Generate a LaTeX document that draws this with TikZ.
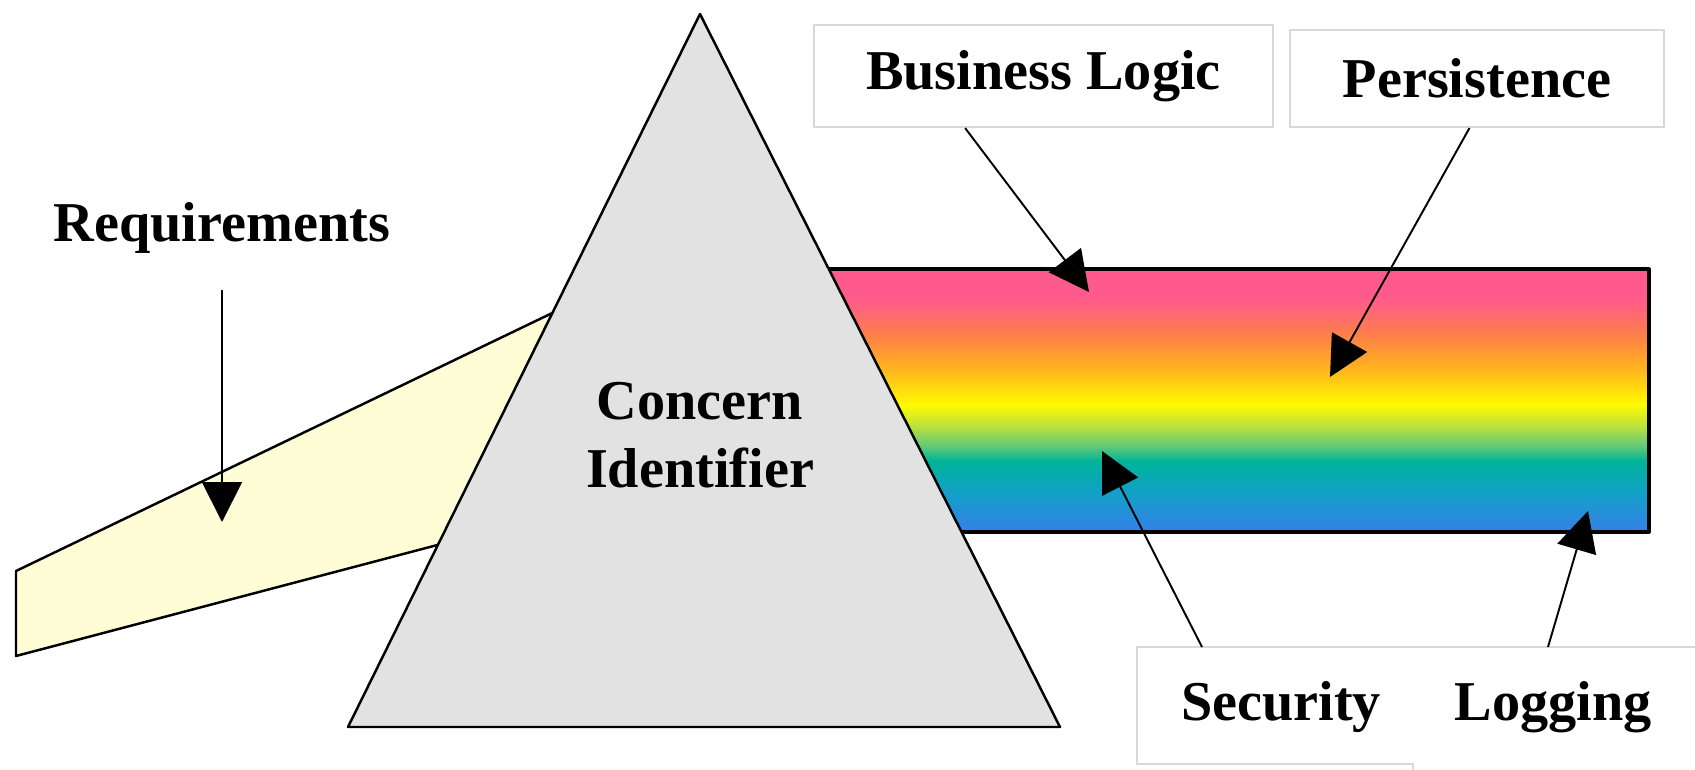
\documentclass[tikz,border=0pt]{standalone}
\usepackage{fontspec}
\setmainfont{Liberation Serif}
\usepackage{tkz-euclide}
\usetikzlibrary{arrows.meta,calc}

\definecolor{prismgray}{HTML}{E2E2E2}
\definecolor{beamyellow}{HTML}{FFFDD6}
\definecolor{tagframe}{HTML}{D8D8D8}
\definecolor{rbPink}{HTML}{FF5A8E}
\definecolor{rbOrange}{HTML}{FF8048}
\definecolor{rbAmber}{HTML}{FFB020}
\definecolor{rbYellow}{HTML}{FFFA00}
\definecolor{rbLime}{HTML}{B8E040}
\definecolor{rbGreen}{HTML}{60C878}
\definecolor{rbTeal}{HTML}{00B498}
\definecolor{rbSky}{HTML}{12A0C8}
\definecolor{rbBlue}{HTML}{3580E8}

\pgfdeclareverticalshading{rainbow}{100bp}{%
  color(0bp)=(rbBlue); color(25bp)=(rbBlue); color(32.5bp)=(rbSky);
  color(38.5bp)=(rbTeal); color(41.3bp)=(rbGreen); color(45bp)=(rbLime);
  color(49.2bp)=(rbYellow); color(56.5bp)=(rbAmber); color(62.3bp)=(rbOrange);
  color(69.5bp)=(rbPink); color(75bp)=(rbPink); color(100bp)=(rbPink)}

\tikzset{
  bigtext/.style={font=\bfseries\fontsize{16}{19.3}\selectfont},
  tag/.style={bigtext, draw=tagframe, line width=0.6pt, fill=white, inner sep=0pt},
  pointer/.style={-{Triangle[length=4mm,width=4mm]}, line width=0.55pt},
}

\begin{document}
\begin{tikzpicture}[x=0.1mm,y=-0.1mm]
  \useasboundingbox (0,0) rectangle (1695,770);
  \tkzDefPoint(16,571){Y1}
  \tkzDefPoint(650,266){Y2}
  \tkzDefPoint(650,489){Y3}
  \tkzDefPoint(16,656){Y4}
  \tkzDefPoint(760,269){R1}
  \tkzDefPoint(1649,269){R2}
  \tkzDefPoint(1649,532){R3}
  \tkzDefPoint(760,532){R4}
  \tkzDefPoint(700,14){T}
  \tkzDefPoint(348,727){L}
  \tkzDefPoint(1060,727){M}
  \tkzDrawPolygon[draw=black,line width=0.7pt,fill=beamyellow](Y1,Y2,Y3,Y4)
  \tkzDrawPolygon[draw=black,line width=0.9pt,shade,shading=rainbow](R1,R2,R3,R4)
  \tkzDrawPolygon[draw=black,line width=0.7pt,fill=prismgray](T,L,M)

  \node[bigtext, anchor=base] (req) at (222,241) {Requirements};
  \node[bigtext, align=center] (prism) at (700,435) {Concern\\Identifier};
  \node[tag, minimum width=45.9mm, minimum height=10.2mm] (logic) at (1043.5,76) {Business Logic};
  \node[tag, minimum width=37.4mm, minimum height=9.7mm] (store) at (1477,78.5) {Persistence};
  \draw[tagframe, line width=0.6pt] (1413,770) -- (1413,764) -- (1137,764) -- (1137,647) -- (1695,647);
  \node[bigtext, anchor=base] (sec) at (1281,720) {Security};
  \node[bigtext, anchor=base] (log) at (1553,720) {Logging};

  \coordinate (reqtip) at (222,522);
  \coordinate (logictip) at (1089,292);
  \coordinate (storetip) at (1330,377);
  \coordinate (secfoot) at (1202,647);
  \coordinate (sectip) at (1102,451);
  \coordinate (logfoot) at (1548,647);
  \coordinate (logtip) at (1588,511);
  \draw[pointer, shorten <=2.5mm] (req.south) -- (reqtip);
  \draw[pointer] ($(logic.south west)!0.33!(logic.south east)$) -- (logictip);
  \draw[pointer] ($(store.south west)!0.48!(store.south east)$) -- (storetip);
  \draw[pointer] (secfoot) -- (sectip);
  \draw[pointer] (logfoot) -- (logtip);
\end{tikzpicture}
\end{document}
